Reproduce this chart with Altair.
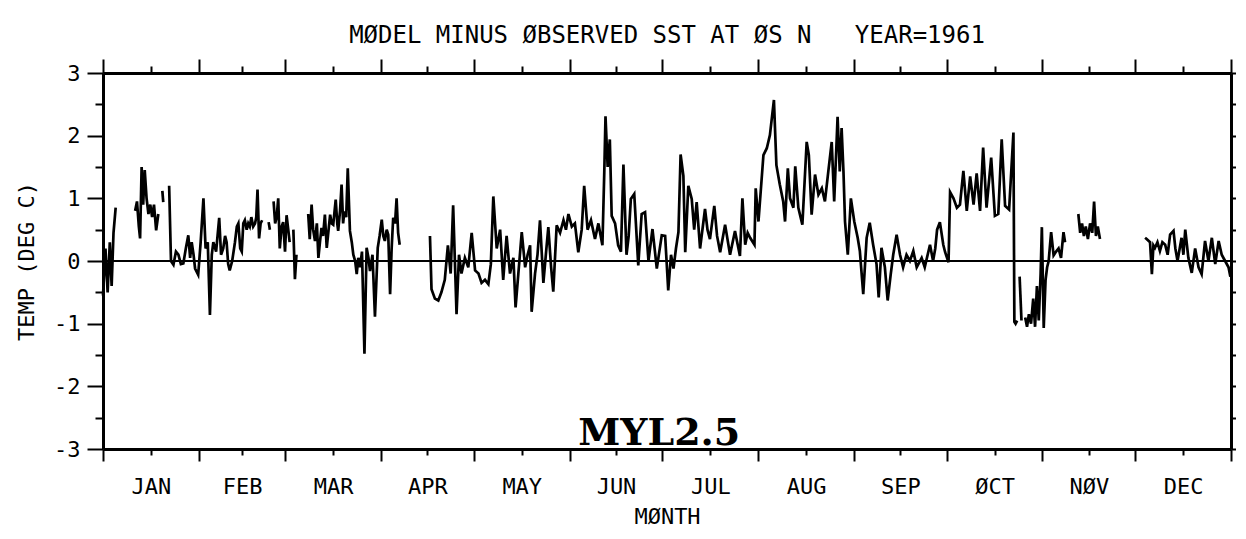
import altair as alt
import pandas as pd

FONT = "DejaVu Sans Mono"
TITLE = "MØDEL MINUS ØBSERVED SST AT ØS N\u00a0\u00a0\u00a0YEAR=1961"
Y_TITLE = "TEMP (DEG C)"
X_TITLE = "MØNTH"
ANNOTATION = "MYL2.5"

MONTHS = ["JAN", "FEB", "MAR", "APR", "MAY", "JUN", "JUL", "AUG", "SEP", "ØCT", "NØV", "DEC"]
MONTH_STARTS = [0, 31, 59, 90, 120, 151, 181, 212, 243, 273, 304, 334, 365]
Y_MAJOR = [-3, -2, -1, 0, 1, 2, 3]
Y_HALF = [-2.5, -1.5, -0.5, 0.5, 1.5, 2.5]

# (day of year, model minus observed SST in deg C); each list is one unbroken piece of the trace
seg01 = [(0.0, -0.55), (0.8, 0.2), (1.5, -0.5), (2.2, 0.3), (2.8, -0.4), (3.4, 0.45), (4.1, 0.85)]
seg02 = [(10.4, 0.8), (11.0, 0.95), (11.6, 0.55), (12.0, 0.36), (12.5, 1.5), (13.0, 0.9), (13.5, 1.45),
         (14.1, 1.0), (14.7, 0.75), (15.3, 0.9), (15.9, 0.7), (16.5, 0.9), (17.2, 0.49), (17.9, 0.75)]
seg03 = [(19.2, 1.12), (19.5, 0.94)]
seg04 = [(21.4, 1.2), (22.0, 0.0), (22.8, -0.06), (23.6, 0.15), (24.4, 0.1), (25.2, -0.05), (26.0, -0.04),
         (26.8, 0.2), (27.6, 0.41), (28.2, 0.05), (28.7, 0.3), (29.3, 0.1), (29.8, -0.12), (30.8, -0.22),
         (31.6, 0.3), (32.5, 1.0), (33.2, 0.2), (33.9, 0.3), (34.6, -0.86), (35.2, 0.1), (35.7, 0.3),
         (36.6, 0.15), (37.6, 0.69), (38.2, 0.1), (38.9, 0.2), (39.5, 0.4), (40.0, 0.3), (40.5, -0.05),
         (41.0, -0.15), (41.8, 0.0), (42.7, 0.3), (43.3, 0.55), (43.8, 0.6), (44.4, 0.2), (44.9, 0.15),
         (45.4, 0.6), (45.9, 0.65), (46.5, 0.5), (47.0, 0.6), (47.5, 0.55), (48.0, 0.7), (48.6, 0.55),
         (49.2, 0.6), (49.6, 0.7), (50.0, 1.14), (50.5, 0.36), (51.0, 0.6), (51.5, 0.65)]
seg05 = [(53.6, 0.62), (54.0, 0.5)]
seg06 = [(55.2, 0.95), (55.7, 0.6), (56.2, 0.7), (56.7, 1.0), (57.2, 0.2), (57.8, 0.55), (58.3, 0.62),
         (58.9, 0.15), (59.4, 0.73), (59.9, 0.52), (60.4, 0.3)]
seg07 = [(61.6, 0.5), (62.1, -0.29), (62.6, 0.1)]
seg08 = [(66.4, 0.75), (66.9, 0.35), (67.5, 0.9), (68.0, 0.5), (68.6, 0.32), (69.2, 0.6), (69.7, 0.05),
         (70.2, 0.3), (70.7, 0.53), (71.2, 0.4), (71.8, 0.74), (72.4, 0.21), (73.0, 0.5), (73.5, 0.74),
         (74.0, 0.6), (74.5, 0.58), (75.3, 0.98), (75.8, 0.6), (76.1, 0.48), (76.7, 0.8), (77.2, 1.22),
         (77.7, 0.6), (78.1, 0.79), (78.7, 0.7), (79.2, 1.48), (79.9, 0.48), (80.5, 0.3), (81.0, 0.1),
         (81.6, 0.0), (82.1, -0.21), (82.6, 0.05), (83.2, -0.1), (83.8, 0.15), (84.6, -1.48), (85.3, 0.21),
         (85.9, 0.05), (86.4, -0.16), (87.2, 0.1), (88.0, -0.89), (88.9, 0.21), (89.5, 0.4), (90.2, 0.66),
         (90.7, 0.4), (91.2, 0.32), (91.8, 0.5), (92.3, 0.42), (92.9, -0.53), (93.4, 0.2), (93.9, 0.69),
         (94.5, 0.6), (95.0, 1.0), (95.5, 0.45), (96.0, 0.26)]
seg09 = [(105.8, 0.4), (106.3, -0.45), (107.4, -0.6), (108.5, -0.63), (109.5, -0.5), (110.6, -0.3),
         (111.6, 0.25), (112.5, -0.2), (113.3, 0.89), (114.4, -0.85), (115.2, 0.1), (116.0, -0.2),
         (117.1, 0.05), (118.2, -0.1), (119.3, 0.45), (120.4, -0.15), (121.5, -0.2), (122.5, -0.35),
         (123.6, -0.3), (124.7, -0.37), (125.5, -0.05), (126.3, 1.03), (127.4, 0.2), (128.5, 0.5),
         (129.5, -0.3), (130.6, 0.4), (131.7, -0.2), (132.8, 0.05), (133.5, -0.74), (134.4, -0.2),
         (135.5, 0.46), (136.6, -0.1), (137.4, 0.1), (138.2, 0.25), (138.7, -0.81), (139.8, -0.2),
         (140.6, 0.1), (141.4, 0.65), (142.5, -0.35), (143.3, 0.1), (144.1, 0.54), (145.0, -0.1),
         (145.7, -0.49), (146.8, 0.57), (147.9, 0.45), (149.0, 0.65), (149.8, 0.5), (150.6, 0.75),
         (151.7, 0.55), (152.7, 0.6), (153.8, 0.14), (154.9, 0.5), (155.7, 1.2), (156.8, 0.5),
         (157.9, 0.65), (159.2, 0.35), (160.3, 0.6), (161.6, 0.25), (162.2, 1.41), (162.6, 2.31),
         (163.3, 1.5), (164.0, 1.94), (164.6, 0.72), (165.7, 0.6), (166.7, 0.25), (167.6, 0.15),
         (168.4, 1.54), (169.4, 0.1), (170.1, 0.4), (170.8, 0.99), (171.9, 1.07), (173.2, -0.07),
         (174.3, 0.75), (175.4, 0.78), (176.5, 0.0), (177.8, 0.51), (179.2, -0.12), (180.8, 0.41),
         (181.9, 0.4), (182.9, -0.47), (183.8, 0.1), (184.6, -0.12), (185.4, 0.2), (186.2, 0.46),
         (186.9, 1.7), (187.8, 1.36), (188.4, 0.14), (189.4, 1.2), (190.5, 0.99), (191.3, 0.5),
         (192.1, 0.94), (193.2, 0.2), (194.8, 0.83), (195.6, 0.5), (196.4, 0.35), (197.8, 0.88),
         (198.7, 0.4), (199.7, 0.14), (201.3, 0.58), (202.9, 0.1), (204.5, 0.48), (206.1, 0.08),
         (206.9, 1.0), (207.8, 0.26), (208.6, 0.45), (209.4, 0.37), (210.8, 0.26), (211.2, 1.16),
         (212.1, 0.63), (213.7, 1.69), (214.8, 1.8), (215.8, 2.01), (217.1, 2.57), (217.9, 1.53),
         (219.0, 1.22), (220.1, 0.95), (220.7, 0.63), (221.6, 1.48), (222.3, 1.0), (223.4, 0.85),
         (224.0, 1.51), (225.0, 0.85), (226.3, 0.58), (227.7, 1.9), (228.4, 1.69), (229.3, 0.74),
         (230.4, 1.38), (231.5, 1.06), (232.6, 1.16), (233.6, 0.95), (234.7, 1.43), (235.8, 1.9),
         (236.6, 0.95), (237.7, 2.3), (238.4, 1.43), (239.0, 2.12), (239.6, 1.43), (240.1, 0.63),
         (241.0, 0.1), (242.0, 1.0), (243.1, 0.63), (244.2, 0.37), (244.9, 0.16), (246.0, -0.53),
         (247.1, 0.37), (248.1, 0.61), (249.2, 0.26), (250.3, -0.05), (251.0, -0.58), (251.9, 0.21),
         (253.0, -0.1), (253.9, -0.63), (254.9, -0.21), (255.7, 0.1), (256.8, 0.42), (257.9, 0.1),
         (258.9, -0.1), (260.0, 0.1), (261.1, 0.0), (262.2, 0.16), (263.3, -0.1), (264.9, 0.05),
         (265.9, -0.1), (267.6, 0.26), (268.6, 0.0), (269.3, 0.2), (269.9, 0.5), (270.8, 0.62),
         (271.9, 0.26), (272.5, 0.14), (273.6, -0.02), (274.1, 1.1), (275.2, 1.0), (276.3, 0.85),
         (277.3, 0.9), (278.4, 1.44), (279.5, 0.8), (280.6, 1.35), (281.7, 0.9), (282.7, 1.4),
         (283.8, 0.8), (284.8, 1.81), (285.9, 0.85), (287.4, 1.65), (288.6, 0.72), (289.7, 0.75),
         (290.8, 1.94), (291.9, 0.88), (293.2, 0.82), (294.6, 2.05), (294.9, -0.97), (295.3, -1.0),
         (295.8, -0.95)]
seg10 = [(296.6, -0.25), (297.2, -0.95)]
seg11 = [(298.4, -0.9), (299.0, -1.05), (299.6, -0.85), (300.3, -1.0), (301.0, -0.6), (301.6, -1.05),
         (302.2, -0.4), (302.8, -0.95), (303.4, -0.2), (303.8, 0.54), (304.4, -1.07), (305.0, -0.3),
         (305.5, -0.1), (306.0, 0.0), (306.8, 0.46), (307.6, 0.09), (308.4, 0.15), (309.2, 0.2),
         (310.0, 0.05), (310.8, 0.46), (311.3, 0.3)]
seg12 = [(315.6, 0.75), (316.2, 0.45), (316.8, 0.6), (317.4, 0.4), (318.0, 0.55), (318.7, 0.35),
         (319.4, 0.6), (320.1, 0.45), (320.7, 0.95), (321.3, 0.4), (321.9, 0.55), (322.6, 0.35)]
seg13 = [(337.2, 0.37), (337.7, 0.35), (338.8, 0.3), (339.4, -0.21), (339.9, 0.25), (340.4, 0.21),
         (341.2, 0.3), (342.0, 0.16), (342.8, 0.3), (343.7, 0.26), (344.5, 0.1), (345.3, 0.42),
         (346.4, 0.48), (347.0, 0.2), (347.7, 0.0), (349.0, 0.37), (349.6, 0.1), (350.2, 0.5),
         (351.2, 0.05), (352.3, -0.19), (353.4, 0.2), (354.5, -0.1), (355.5, -0.21), (356.6, 0.32),
         (357.7, 0.0), (358.8, 0.37), (359.9, -0.05), (361.0, 0.32), (362.0, 0.1), (363.1, 0.0),
         (364.2, -0.1), (364.8, -0.25)]

SEGMENTS = [seg01, seg02, seg03, seg04, seg05, seg06, seg07, seg08, seg09, seg10, seg11, seg12, seg13]

rows = []
for i, seg in enumerate(SEGMENTS):
    for d, v in seg:
        rows.append({"day": d, "temp": v, "seg": i})
df = pd.DataFrame(rows)

mid_months = [(a + b) / 2 for a, b in zip(MONTH_STARTS[:-1], MONTH_STARTS[1:])]
month_array = "[" + ",".join("'" + m + "'" for m in MONTHS) + "]"
month_expr = month_array + "[floor(datum.value / 30.42)]"

zero_df = pd.DataFrame({"temp": [0]})
ann_df = pd.DataFrame({"day": [180.0], "temp": [-2.93], "label": [ANNOTATION]})

xs = alt.Scale(domain=[0, 365], nice=False, zero=False)
ys = alt.Scale(domain=[-3, 3], nice=False, zero=False)

AX = dict(grid=False, domainColor="black", tickColor="black", labelColor="black",
          titleColor="black", labelFont=FONT, titleFont=FONT, labelFontSize=22,
          titleFontSize=22, titleFontWeight="normal", tickWidth=2, domainWidth=3)

main = alt.Chart(df).mark_line(color="black", strokeWidth=2.7).encode(
    x=alt.X("day:Q", scale=xs, axis=alt.Axis(orient="bottom", values=MONTH_STARTS, tickSize=12,
                                              labels=False, title=None, **AX)),
    y=alt.Y("temp:Q", scale=ys, axis=alt.Axis(orient="left", values=Y_MAJOR, tickSize=16,
                                               labelPadding=7, labelExpr="'' + datum.value",
                                               title=Y_TITLE, titlePadding=15, **AX)),
    detail="seg:N",
)

minor = alt.Chart(df).mark_line(strokeOpacity=0).encode(
    x=alt.X("day:Q", scale=xs, axis=alt.Axis(orient="bottom", values=mid_months, tickSize=6,
                                              domain=False, labelExpr=month_expr, labelPadding=21,
                                              labelFlush=False, title=X_TITLE, titlePadding=9, **AX)),
    y=alt.Y("temp:Q", scale=ys, axis=alt.Axis(orient="left", values=Y_HALF, tickSize=8,
                                               domain=False, labels=False, title=None, **AX)),
    detail="seg:N",
)

top_right = alt.Chart(df).mark_line(strokeOpacity=0).encode(
    x=alt.X("day:Q", scale=xs, axis=alt.Axis(orient="top", values=MONTH_STARTS, tickSize=14,
                                              labels=False, title=None, **AX)),
    y=alt.Y("temp:Q", scale=ys, axis=alt.Axis(orient="right", values=Y_MAJOR, tickSize=12,
                                               labels=False, title=None, **AX)),
    detail="seg:N",
)

top_right_minor = alt.Chart(df).mark_line(strokeOpacity=0).encode(
    x=alt.X("day:Q", scale=xs, axis=alt.Axis(orient="top", values=mid_months, tickSize=7,
                                              domain=False, labels=False, title=None, **AX)),
    y=alt.Y("temp:Q", scale=ys, axis=alt.Axis(orient="right", values=Y_HALF, tickSize=8,
                                               domain=False, labels=False, title=None, **AX)),
    detail="seg:N",
)

zero_line = alt.Chart(zero_df).mark_rule(color="black", strokeWidth=2).encode(
    y=alt.Y("temp:Q", scale=ys, axis=None),
)

annotation = alt.Chart(ann_df).mark_text(
    font="DejaVu Serif", fontWeight="bold", fontSize=38, color="black",
    align="center", baseline="alphabetic",
).encode(
    x=alt.X("day:Q", scale=xs, axis=None),
    y=alt.Y("temp:Q", scale=ys, axis=None),
    text="label:N",
)

chart = alt.layer(main, minor, top_right, top_right_minor, zero_line, annotation).resolve_axis(
    x="independent", y="independent"
).properties(
    width=1128,
    height=376,
    autosize=alt.AutoSizeParams(type="none"),
    padding={"left": 95, "top": 65, "right": 5, "bottom": 80},
    title=alt.TitleParams(text=TITLE, font=FONT, fontSize=24, fontWeight="normal",
                          color="black", anchor="middle", offset=10),
).configure_view(strokeWidth=0).configure(background="white")

chart.save("out.html", embed_options={"renderer": "svg", "actions": False})
